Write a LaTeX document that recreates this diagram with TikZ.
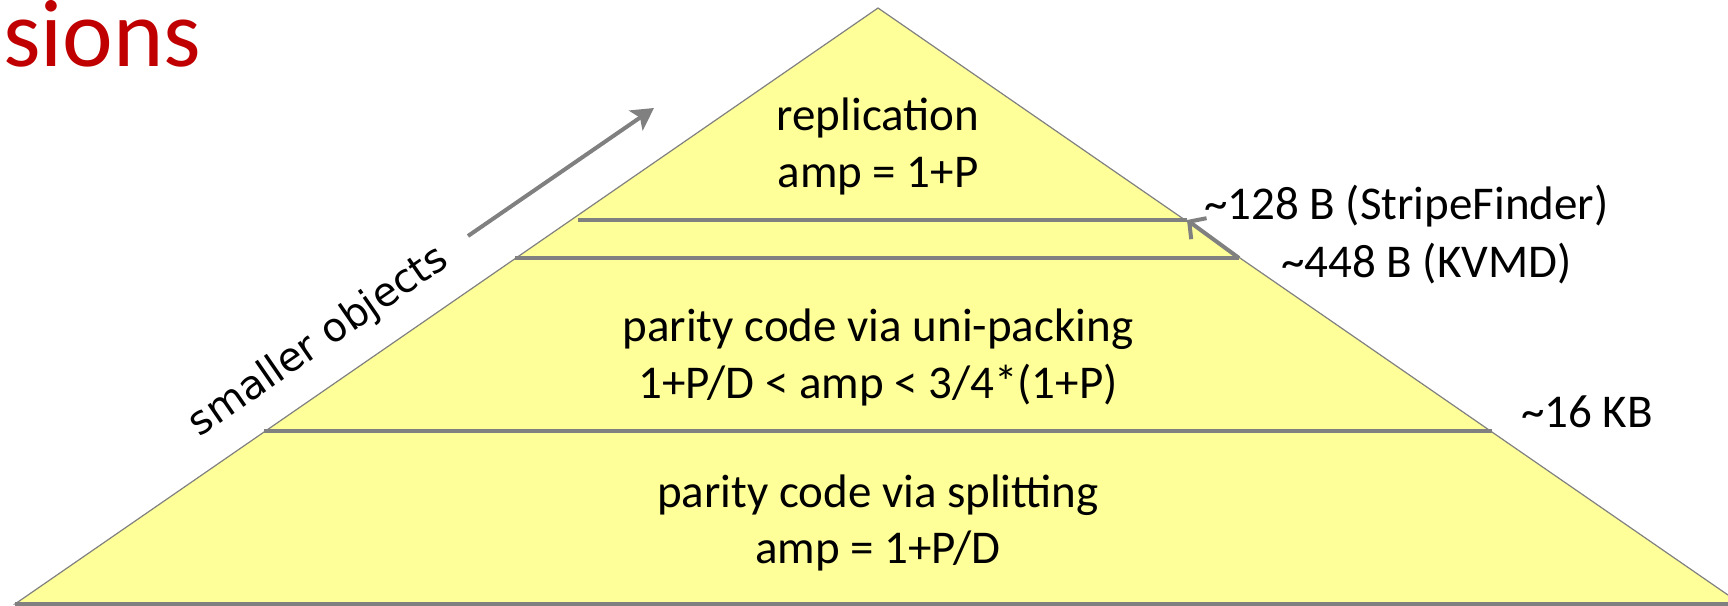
\documentclass[tikz,border=0pt]{standalone}
\usepackage{fontspec}
\setmainfont{Carlito}
\newfontfamily\labelsans{DejaVu Sans}
\usetikzlibrary{arrows.meta}
\definecolor{pyramidfill}{HTML}{FFFF99}
\definecolor{edgegray}{HTML}{808080}
\definecolor{titlered}{HTML}{C00000}

\begin{document}
\begin{tikzpicture}[x=1pt,y=-1pt,
  outline/.style={fill=pyramidfill, draw=edgegray, line width=1.2pt, line join=miter},
  divider/.style={draw=edgegray, line width=3.5pt},
  pointer/.style={draw=edgegray, line width=4pt},
  tier/.style={font=\fontsize{47}{56}\selectfont, inner sep=0pt, anchor=base},
  sizelabel/.style={font=\fontsize{47}{56}\selectfont, inner sep=0pt, anchor=base west}]
\useasboundingbox (0,0) rectangle (1728,605);

% pyramid corners and tier boundaries
\coordinate (apex) at (878,8);
\coordinate (bl) at (15,604);
\coordinate (br) at (1741,604);
\coordinate (d1l) at (578,220);
\coordinate (d1r) at (1187,220);
\coordinate (d2l) at (515,258);
\coordinate (d2r) at (1239,258);
\coordinate (d3l) at (264,431);
\coordinate (d3r) at (1492,431);
\coordinate (sa) at (468,236);
\coordinate (sb) at (654,108);

\begin{scope}
  \clip (0,0) rectangle (1728,605);
  \path[outline] (apex) -- (bl) -- (br) -- cycle;
  \draw[divider] (bl) -- (br);
\end{scope}

\draw[divider] (d1l) -- (d1r);
\draw[divider] (d2l) -- (d2r);
\draw[divider] (d3l) -- (d3r);

% arrows
\draw[pointer, -{Stealth[length=22pt,width=24pt,inset=5pt]}] (sa) -- (sb);
\draw[pointer, -{Straight Barb[length=12pt,width=26pt]}] (d2r) -- (d1r);

% heading fragment
\node[font=\fontsize{96}{110}\selectfont, text=titlered, inner sep=0pt, anchor=base west] (title) at (3,66) {sions};

% tier texts
\node[tier] (rep) at (878,130) {replication};
\node[tier] (repamp) at (878,187) {amp = 1+P};
\node[tier] (uni) at (878,341) {parity code via uni-packing};
\node[tier] (uniamp) at (878,398) {1+P/D < amp < 3/4*(1+P)};
\node[tier] (spl) at (878,507) {parity code via splitting};
\node[tier] (splamp) at (878,563) {amp = 1+P/D};

% size thresholds
\node[sizelabel] (l128) at (1204,219) {\textasciitilde128 B (StripeFinder)};
\node[sizelabel] (l448) at (1281,277) {\textasciitilde448 B (KVMD)};
\node[sizelabel] (l16) at (1521,427) {\textasciitilde16 KB};

% direction label
\node[font=\labelsans\fontsize{40}{46}\selectfont, rotate=34.57, inner sep=0pt] (small) at (319,342) {smaller objects};
\end{tikzpicture}
\end{document}
